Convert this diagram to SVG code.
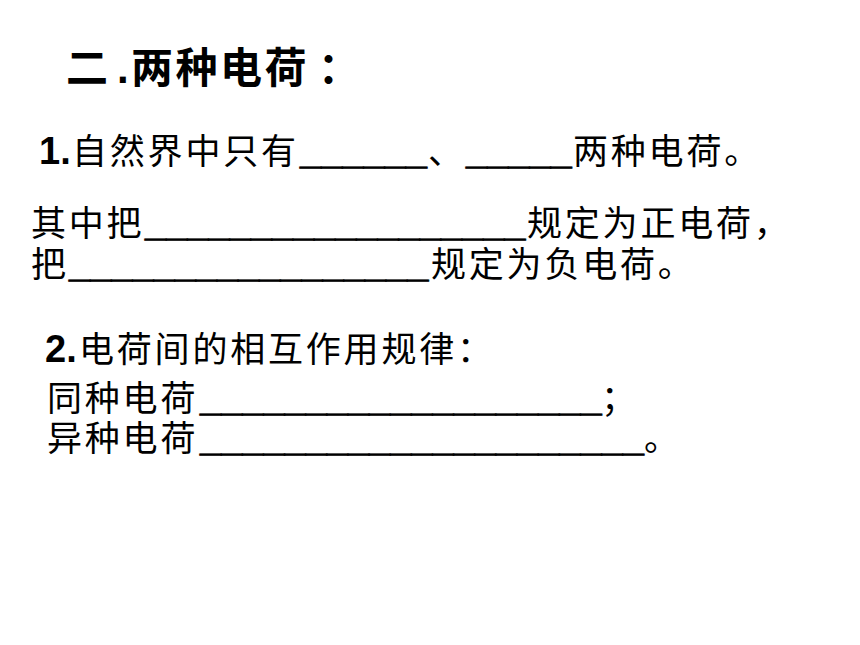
<svg xmlns="http://www.w3.org/2000/svg" width="860" height="645" viewBox="0 0 860 645">
<style>
.t{font-family:"Liberation Sans","Noto Sans CJK SC",sans-serif;fill:#000}
.title{font-size:42px;font-weight:bold}
.ttl{font-family:"Noto Sans CJK SC",sans-serif;font-size:42px;font-weight:bold;letter-spacing:2.5px}
.cj{font-family:"Noto Sans CJK SC",sans-serif;font-size:35px;letter-spacing:2.8px}
.b{font-family:"Liberation Sans",sans-serif;font-size:38px;font-weight:bold}
.u{font-family:"Liberation Sans",sans-serif;font-size:38px;font-weight:bold;stroke:#000;stroke-width:0.9px}
</style>
<rect width="860" height="645" fill="#fff"/>
<g id="title" class="t">
<text class="ttl" x="66" y="83">二</text>
<text class="title" x="117" y="83">.</text>
<text class="ttl" x="131" y="83">两种电荷</text>
<text class="ttl" x="318" y="83">：</text>
</g>
<g id="line1" class="t">
<text class="b" x="39" y="164">1.</text>
<text class="cj" x="72" y="164">自然界中只有</text>
<text class="u" x="300" y="164">______</text>
<text class="cj" x="428" y="164">、</text>
<text class="u" x="466" y="164">_____</text>
<text class="cj" x="573" y="164">两种电荷。</text>
</g>
<g id="line2" class="t">
<text class="cj" x="31" y="236">其中把</text>
<text class="u" x="145" y="236">__________________</text>
<text class="cj" x="527" y="236">规定为正电荷，</text>
</g>
<g id="line3" class="t">
<text class="cj" x="31" y="277">把</text>
<text class="u" x="69" y="277">_________________</text>
<text class="cj" x="431" y="277">规定为负电荷。</text>
</g>
<g id="line4" class="t">
<text class="b" x="45" y="362">2.</text>
<text class="cj" x="79" y="362">电荷间的相互作用规律：</text>
</g>
<g id="line5" class="t">
<text class="cj" x="47" y="411">同种电荷</text>
<text class="u" x="200" y="411">___________________</text>
<text class="cj" x="601" y="411">；</text>
</g>
<g id="line6" class="t">
<text class="cj" x="47" y="451">异种电荷</text>
<text class="u" x="200" y="451">_____________________</text>
<text class="cj" x="644" y="451">。</text>
</g>
</svg>
